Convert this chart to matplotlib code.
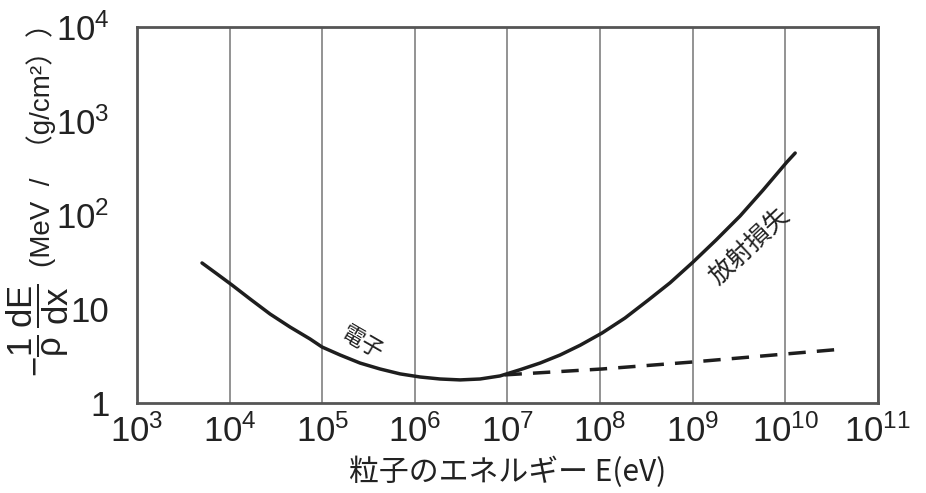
import matplotlib
matplotlib.use("Agg")
import matplotlib.pyplot as plt
from matplotlib import font_manager
import numpy as np

# pick a narrow latin font if there is one
names = set(f.name for f in font_manager.fontManager.ttflist)
latin = "Liberation Sans Narrow" if "Liberation Sans Narrow" in names else "Liberation Sans"
cjk = "Noto Sans CJK JP"

plt.rcParams['font.family'] = [latin, cjk, 'DejaVu Sans']
plt.rcParams['mathtext.fontset'] = 'custom'
plt.rcParams['mathtext.rm'] = latin
plt.rcParams['mathtext.it'] = latin
plt.rcParams['mathtext.sf'] = latin

# data (energy in eV, stopping power in MeV/(g/cm2))
elec_E = [5.03e3, 7.31e3, 1.06e4, 1.66e4, 2.73e4, 4.49e4, 7.38e4, 9.95e4,
          1.56e5, 2.56e5, 4.21e5, 6.92e5, 1.14e6, 1.87e6, 3.08e6, 5.06e6,
          8.32e6, 1.37e7, 2.25e7, 3.70e7, 6.08e7, 1.05e8, 1.86e8, 3.30e8,
          5.70e8, 1.01e9, 1.79e9, 3.25e9, 5.75e9, 1.04e10, 1.28e10]
elec_S = [30.9, 23.6, 18.0, 12.8, 8.85, 6.43, 4.80, 3.94,
          3.24, 2.66, 2.30, 2.04, 1.89, 1.80, 1.76, 1.80,
          1.94, 2.26, 2.66, 3.24, 4.11, 5.55, 8.02, 12.4,
          19.0, 31.6, 54.2, 97.6, 184.0, 366.0, 457.0]

coll_E = [9.3e6, 1.05e8, 1.0e9, 1.0e10, 4.2e10]
coll_S = [1.99, 2.30, 2.73, 3.32, 3.75]

xticks = [1e3, 1e4, 1e5, 1e6, 1e7, 1e8, 1e9, 1e10, 1e11]
xlabels = ["$10^{3}$", "$10^{4}$", "$10^{5}$", "$10^{6}$", "$10^{7}$",
           "$10^{8}$", "$10^{9}$", "$10^{10}$", "$10^{11}$"]
yticks = [1, 10, 100, 1000, 10000]
ylabels = ["1", "10", "$10^{2}$", "$10^{3}$", "$10^{4}$"]

fig = plt.figure(figsize=(9.26, 4.93), dpi=100)
ax = fig.add_axes([0.148, 0.1826, 0.8, 0.7624])

ax.plot(elec_E, elec_S, color="#1e1e1e", lw=2.5, solid_capstyle="round",
        solid_joinstyle="round")
ax.plot(coll_E, coll_S, color="#1e1e1e", lw=2.5, dashes=(5, 3.2))

ax.set_xscale("log")
ax.set_yscale("log")
ax.set_xlim(1e3, 1e11)
ax.set_ylim(1, 1e4)
ax.set_xticks(xticks)
ax.set_xticklabels(xlabels)
ax.set_yticks(yticks)
ax.set_yticklabels(ylabels)
ax.minorticks_off()
ax.tick_params(axis="both", length=0, labelsize=25, colors="#222222")
ax.tick_params(axis="x", pad=8)
ax.tick_params(axis="y", pad=20)

ax.grid(True, axis="x", color="#8a8a8a", lw=1.3)
ax.set_axisbelow(True)
for s in ax.spines.values():
    s.set_color("#555555")
    s.set_linewidth(2)

ax.text(2.7e5, 4.4, "電子", family=[cjk], fontsize=16, rotation=-30,
        ha="center", va="center", color="#222222")
ax.text(4.1e9, 46.8, "放射損失", family=[cjk], fontsize=18, rotation=43,
        ha="center", va="center", color="#222222")

ax.set_xlabel("粒子のエネルギー E(eV)", family=[cjk, latin], fontsize=21.5,
              color="#222222", labelpad=6)

fig.text(0.041, 0.33, r"$-\dfrac{1}{\rho}\,\dfrac{dE}{dx}$", rotation=90,
         fontsize=25, ha="center", va="center", color="#222222")
fig.text(0.044, 0.72, "(MeV  /  （g/cm²））", family=[latin, cjk], rotation=90,
         fontsize=20, ha="center", va="center", color="#222222")

fig.savefig("out.png", dpi=100)
